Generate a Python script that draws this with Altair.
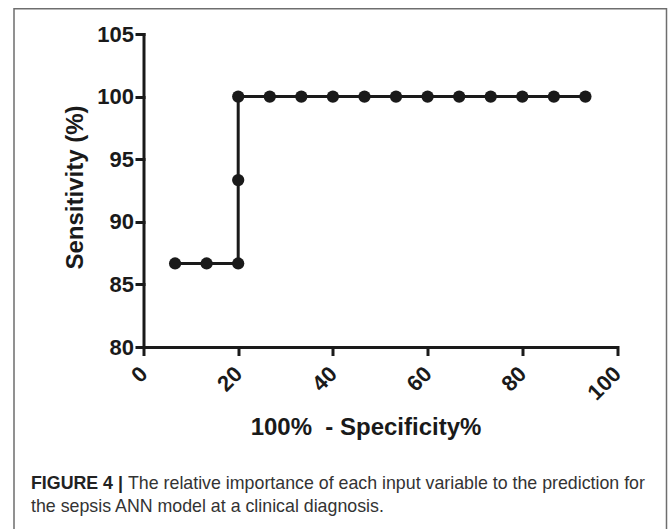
import altair as alt
import pandas as pd

# Data
spec_x = [6.67, 13.33, 20.0, 20.0, 20.0, 26.67, 33.33, 40.0, 46.67, 53.33,
          60.0, 66.67, 73.33, 80.0, 86.67, 93.33]
sens_y = [86.67, 86.67, 86.67, 93.33, 100, 100, 100, 100, 100, 100,
          100, 100, 100, 100, 100, 100]
x_ticks = [0, 20, 40, 60, 80, 100]
y_ticks = [80, 85, 90, 95, 100, 105]

x_title = "100%\u00a0 - Specificity%"
y_title = "Sensitivity (%)"
caption_bold = "FIGURE 4 |"
caption_line1 = "The relative importance of each input variable to the prediction for"
caption_line2 = "the sepsis ANN model at a clinical diagnosis."

df = pd.DataFrame({"x": spec_x, "y": sens_y, "order": list(range(len(spec_x)))})
one = pd.DataFrame({"a": [0]})

INK = "#1a1a1a"
FONT = "Liberation Sans"

xenc = alt.X("x:Q", scale=alt.Scale(domain=[0, 100], nice=False, zero=False),
             axis=alt.Axis(values=x_ticks, title=x_title, labelAngle=315,
                           labelAlign="right", labelBaseline="middle",
                           labelPadding=16,
                           titleX=222, titleY=87, titleBaseline="alphabetic",
                           titleAlign="center", titleFontSize=24))
yenc = alt.Y("y:Q", scale=alt.Scale(domain=[80, 105], nice=False, zero=False),
             axis=alt.Axis(values=y_ticks, title=y_title, labelPadding=3,
                           titleX=-61, titleY=153, titleAngle=270,
                           titleAlign="center", titleBaseline="alphabetic",
                           titleFontSize=24))

line = alt.Chart(df).mark_line(color=INK, strokeWidth=3).encode(
    x=xenc, y=yenc, order="order:Q")
pts = alt.Chart(df).mark_point(filled=True, shape="circle", color=INK, size=150, opacity=1).encode(
    x="x:Q", y="y:Q")

border = alt.Chart(one).mark_rect(fill=None, stroke="#6e6e6e", strokeWidth=1.5).encode(
    x=alt.value(-129.5), x2=alt.value(523), y=alt.value(-25.3), y2=alt.value(500))

cap_b = alt.Chart(one).mark_text(align="left", baseline="alphabetic", font=FONT,
                                 fontSize=17.8, fontWeight="bold", color="#222222").encode(
    x=alt.value(-112.5), y=alt.value(455), text=alt.value(caption_bold))
cap_1 = alt.Chart(one).mark_text(align="left", baseline="alphabetic", font=FONT,
                                 fontSize=17.8, color="#333333").encode(
    x=alt.value(-15.5), y=alt.value(455), text=alt.value(caption_line1))
cap_2 = alt.Chart(one).mark_text(align="left", baseline="alphabetic", font=FONT,
                                 fontSize=17.8, color="#333333").encode(
    x=alt.value(-112.5), y=alt.value(478), text=alt.value(caption_line2))

chart = alt.layer(border, line, pts, cap_b, cap_1, cap_2).properties(
    width=473.5, height=313,
    autosize=alt.AutoSizeParams(type="none"),
    padding={"left": 143.5, "top": 34, "right": 52, "bottom": 182},
    background="white",
).configure_view(stroke=None).configure_axis(
    grid=False, domainColor=INK, domainWidth=3, tickColor=INK, tickWidth=3,
    tickSize=7, labelFont=FONT, labelFontWeight="bold", labelFontSize=22,
    labelColor=INK, titleFont=FONT, titleFontWeight="bold", titleColor=INK,
    labelFlush=False, labelOverlap=False, domainCap="square", tickCap="square",
)

chart.save("out.html", embed_options={"renderer": "svg", "actions": False})
